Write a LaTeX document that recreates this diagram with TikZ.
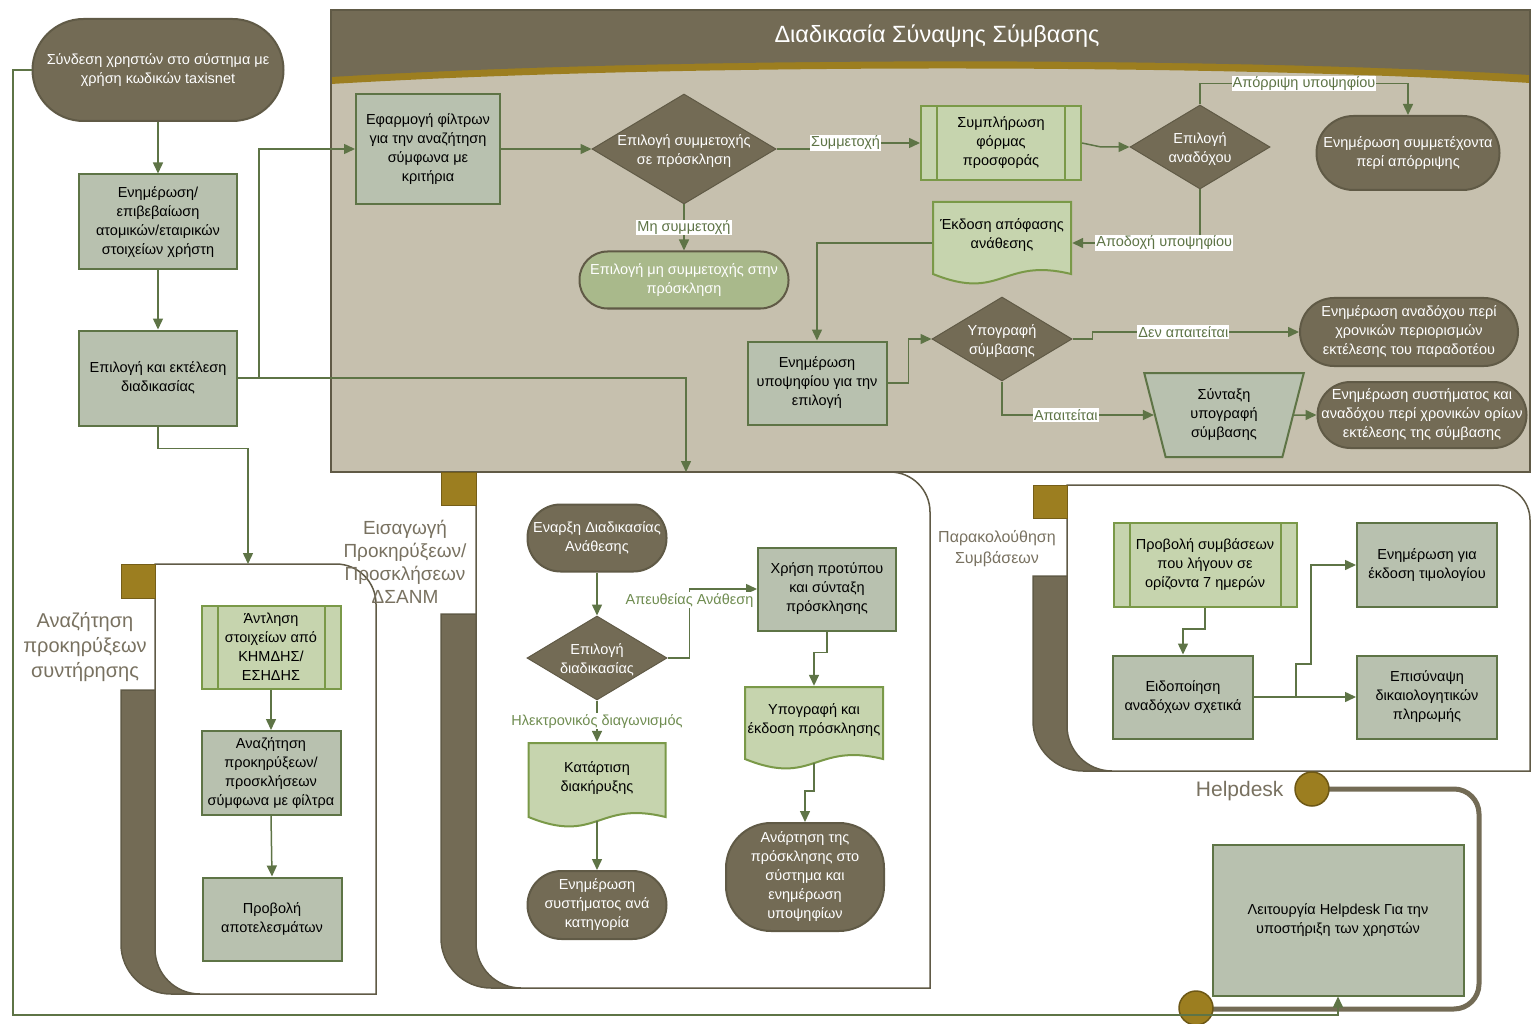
\documentclass[tikz,border=0pt]{standalone}
\usepackage{fontspec}
\setmainfont{Liberation Sans}
\usepackage{tikz}
\usetikzlibrary{arrows.meta}
\usetikzlibrary{shapes.geometric, positioning}
\usepackage{xcolor}
\definecolor{brownD}{RGB}{115,107,85}
\definecolor{brownL}{RGB}{96,90,70}
\definecolor{goldD}{RGB}{156,126,32}
\definecolor{poolbg}{RGB}{198,192,174}
\definecolor{procfill}{RGB}{184,193,175}
\definecolor{procline}{RGB}{94,116,70}
\definecolor{docfill}{RGB}{198,212,174}
\definecolor{docline}{RGB}{122,153,72}
\definecolor{softterm}{RGB}{169,185,139}
\definecolor{flowgreen}{RGB}{94,116,70}
\definecolor{softgreen}{RGB}{111,140,80}
\definecolor{lanegrey}{RGB}{120,113,96}
\newcommand{\boxfont}{\fontsize{14.5}{19}\selectfont}
\tikzstyle{proc} = [draw=procline, fill=procfill, line width=2pt, align=center, font=\boxfont, inner sep=2pt, minimum width=140pt, minimum height=84pt]
\tikzstyle{predef} = [proc, draw=docline, fill=docfill, path picture={
    \draw[docline, line width=2pt] ([xshift=16pt]path picture bounding box.north west) -- ([xshift=16pt]path picture bounding box.south west)
      ([xshift=-16pt]path picture bounding box.north east) -- ([xshift=-16pt]path picture bounding box.south east);}]
\tikzstyle{docbox} = [minimum width=140pt, minimum height=84pt, inner sep=0pt, path picture={
    \filldraw[fill=docfill, draw=docline, line width=2pt]
      ([shift={(1pt,-1pt)}]path picture bounding box.north west) -- ([shift={(-1pt,-1pt)}]path picture bounding box.north east)
      -- ([shift={(-1pt,11pt)}]path picture bounding box.south east)
      .. controls ([yshift=28pt]path picture bounding box.south) and ([yshift=-17pt]path picture bounding box.south)
      .. ([shift={(1pt,11pt)}]path picture bounding box.south west) -- cycle;}]
\tikzstyle{doctext} = [align=center, font=\boxfont, inner sep=0pt]
\tikzstyle{term} = [rectangle, rounded corners=34pt, draw=brownL, fill=brownD, text=white, line width=2pt, align=center, font=\boxfont, inner sep=2pt, minimum width=140pt, minimum height=68pt]
\tikzstyle{choice} = [diamond, draw=brownL, fill=brownD, line width=1pt, inner sep=0pt, minimum width=140pt, minimum height=84pt]
\tikzstyle{choicetext} = [align=center, font=\boxfont, text=white, inner sep=0pt]
\tikzstyle{manual} = [trapezium, shape border rotate=180, trapezium left angle=77, trapezium right angle=77, trapezium stretches=true, draw=procline, fill=procfill, line width=2pt, align=center, font=\boxfont, minimum width=160pt, minimum height=84pt]
\tikzstyle{flow} = [draw=flowgreen, line width=1.5pt, -{Triangle[length=11pt, width=10pt]}]
\tikzstyle{tag} = [fill=white, text=flowgreen, inner sep=1pt, font=\boxfont]
\tikzstyle{lane} = [fill=white, draw=brownL, line width=1.5pt]
\tikzstyle{band} = [fill=brownD, draw=brownL, line width=1.5pt]
\tikzstyle{lanetab} = [fill=goldD, draw=goldD!75!black, line width=1pt]
\tikzstyle{lanename} = [align=center, text=lanegrey, font=\fontsize{20}{25}\selectfont]
\tikzstyle{helpdot} = [circle, fill=goldD, draw=goldD!70!black, line width=1.5pt, minimum size=34pt, inner sep=0pt]

\begin{document}
\begin{tikzpicture}[x=1pt, y=-1pt]
            \useasboundingbox (0,0) rectangle (1531,1024);

            % Pools
            \fill[poolbg] (331,10) rectangle (1530,472);
            \fill[goldD] (331,10) -- (1530,10) -- (1530,83) .. controls (1250,65) and (700,62) .. (331,84) -- cycle;
            \fill[brownD] (331,10) -- (1530,10) -- (1530,75) .. controls (1250,58) and (700,55) .. (331,77) -- cycle;
            \draw[brownL, line width=1.5pt] (331,10) rectangle (1530,472);
            \node[text=white, font=\fontsize{23.5}{27}\selectfont] (title) at (937,36) {Διαδικασία Σύναψης Σύμβασης};

            \filldraw[band] (121,690) -- (121,944) arc[start angle=180, end angle=270, radius=50pt] -- (220,994) -- (220,690) -- cycle;
            \filldraw[lane] (155,564) -- (336,564) arc[start angle=90, end angle=0, radius=40pt] -- (376,994) -- (200,994) arc[start angle=270, end angle=180, radius=45pt] -- cycle;
            \filldraw[lanetab] (121,564) rectangle (155,598);

            \filldraw[band] (441,614) -- (441,938) arc[start angle=180, end angle=270, radius=50pt] -- (540,988) -- (540,614) -- cycle;
            \filldraw[lane] (476,472) -- (890,472) arc[start angle=90, end angle=0, radius=40pt] -- (930,988) -- (521,988) arc[start angle=270, end angle=180, radius=45pt] -- cycle;
            \filldraw[lanetab] (441,472) rectangle (476,505);

            \filldraw[band] (1033,576) -- (1033,721) arc[start angle=180, end angle=270, radius=50pt] -- (1130,771) -- (1130,576) -- cycle;
            \filldraw[lane] (1067,485) -- (1495,485) arc[start angle=90, end angle=0, radius=35pt] -- (1530,771) -- (1112,771) arc[start angle=270, end angle=180, radius=45pt] -- cycle;
            \filldraw[lanetab] (1033,485) rectangle (1067,518);

            \node[lanename] (searchlane) at (85,647) {Αναζήτηση\\προκηρύξεων\\συντήρησης};
            \node[lanename, font=\fontsize{19}{23}\selectfont] (postlane) at (405,562) {Εισαγωγή\\Προκηρύξεων/\\Προσκλήσεων\\ΔΣΑΝΜ};
            \node[lanename, font=\fontsize{16}{21}\selectfont] (tracklane) at (997,549) {Παρακολούθηση\\Συμβάσεων};

            % Helpdesk track
            \draw[brownD, line width=5pt] (1312,789) -- (1454,789) arc[start angle=90, end angle=0, radius=25pt] -- (1479,984) arc[start angle=0, end angle=-90, radius=25pt] -- (1196,1009);
            \node[helpdot] (helpdotA) at (1312,789) {};
            \node[helpdot] (helpdotB) at (1196,1008) {};
            \node[lanename, font=\fontsize{21}{25}\selectfont, anchor=east] (helpname) at (1287,791) {Helpdesk};

            % Nodes
            \node[term, minimum width=251pt, minimum height=102pt, rounded corners=51pt] (start) at (158,70) {Σύνδεση χρηστών στο σύστημα με\\χρήση κωδικών taxisnet};
            \node[proc, minimum width=158pt, minimum height=95pt] (info) at (158,222) {Ενημέρωση/\\επιβεβαίωση\\ατομικών/εταιρικών\\στοιχείων χρήστη};
            \node[proc, minimum width=158pt, minimum height=95pt] (exec) at (158,378) {Επιλογή και εκτέλεση\\διαδικασίας};

            \node[proc, minimum width=144pt, minimum height=110pt] (filt) at (428,149) {Εφαρμογή φίλτρων\\για την αναζήτηση\\σύμφωνα με\\κριτήρια};
            \node[choice, minimum width=184pt, minimum height=110pt] (join) at (684,149) {};
            \node[choicetext] (jointext) at (684,151) {Επιλογή συμμετοχής\\σε πρόσκληση};
            \node[term, fill=softterm, minimum width=209pt, minimum height=57pt, rounded corners=28pt] (skip) at (684,280) {Επιλογή μη συμμετοχής στην\\πρόσκληση};
            \node[predef, minimum width=160pt, minimum height=74pt] (offer) at (1001,143) {Συμπλήρωση\\φόρμας\\προσφοράς};
            \node[choice] (winner) at (1200,147) {};
            \node[choicetext] (winnertext) at (1200,149) {Επιλογή\\αναδόχου};
            \node[term, minimum width=183pt, minimum height=74pt, rounded corners=37pt] (reject) at (1408,153) {Ενημέρωση συμμετέχοντα\\περί απόρριψης};
            \node[docbox] (award) at (1002,243) {};
            \node[doctext] (awardtext) at (1002,235) {Έκδοση απόφασης\\ανάθεσης};
            \node[proc, minimum width=139pt, minimum height=83pt] (notify) at (817,383) {Ενημέρωση\\υποψηφίου για την\\επιλογή};
            \node[choice] (signq) at (1002,339) {};
            \node[choicetext] (signqtext) at (1002,341) {Υπογραφή\\σύμβασης};
            \node[term, minimum width=218pt] (nolimit) at (1409,332) {Ενημέρωση αναδόχου περί\\χρονικών περιορισμών\\εκτέλεσης του παραδοτέου};
            \node[manual] (draft) at (1224,415) {Σύνταξη\\υπογραφή\\σύμβασης};
            \node[term, minimum width=209pt, minimum height=66pt, rounded corners=33pt] (limits) at (1422,415) {Ενημέρωση συστήματος και\\αναδόχου περί χρονικών ορίων\\εκτέλεσης της σύμβασης};

            \node[term, minimum width=139pt, minimum height=67pt, rounded corners=33pt] (opening) at (597,538) {Εναρξη Διαδικασίας\\Ανάθεσης};
            \node[choice] (route) at (597,658) {};
            \node[choicetext] (routetext) at (597,660) {Επιλογή\\διαδικασίας};
            \node[proc, minimum width=138pt, minimum height=83pt] (tmpl) at (827,589) {Χρήση προτύπου\\και σύνταξη\\πρόσκλησης};
            \node[docbox, minimum width=139pt, minimum height=86pt] (decl) at (597,785) {};
            \node[doctext] (decltext) at (597,778) {Κατάρτιση\\διακήρυξης};
            \node[term, minimum width=139pt] (catupd) at (597,905) {Ενημέρωση\\συστήματος ανά\\κατηγορία};
            \node[docbox] (invite) at (814,728) {};
            \node[doctext] (invitetext) at (814,720) {Υπογραφή και\\έκδοση πρόσκλησης};
            \node[term, minimum width=158pt, minimum height=108pt, rounded corners=45pt] (post) at (805,877) {Ανάρτηση της\\πρόσκλησης στο\\σύστημα και\\ενημέρωση\\υποψηφίων};

            \node[predef, minimum width=139pt, minimum height=83pt] (fetch) at (271,647) {Άντληση\\στοιχείων από\\ΚΗΜΔΗΣ/\\ΕΣΗΔΗΣ};
            \node[proc, minimum width=139pt] (search) at (271,773) {Αναζήτηση\\προκηρύξεων/\\προσκλήσεων\\σύμφωνα με φίλτρα};
            \node[proc, minimum width=139pt, minimum height=83pt] (results) at (272,919) {Προβολή\\αποτελεσμάτων};

            \node[predef, minimum width=183pt] (expiring) at (1205,565) {Προβολή συμβάσεων\\που λήγουν σε\\ορίζοντα 7 ημερών};
            \node[proc, minimum height=83pt] (alert) at (1183,697) {Ειδοποίηση\\αναδόχων σχετικά};
            \node[proc] (invoice) at (1427,565) {Ενημέρωση για\\έκδοση τιμολογίου};
            \node[proc, minimum height=83pt] (attach) at (1427,697) {Επισύναψη\\δικαιολογητικών\\πληρωμής};

            \node[proc, minimum width=251pt, minimum height=151pt] (help) at (1338,920) {Λειτουργία Helpdesk Για την\\υποστήριξη των χρηστών};

            \coordinate (lane2top) at (686,472);
            \coordinate (lane3top) at (248,564);

            % Connecting lines
            \draw[flow] (start.south) -- (info.north);
            \draw[flow] (info.south) -- (exec.north);
            \draw[flow] (exec.east) -| (lane2top);
            \draw[flow] ([xshift=21pt]exec.east) |- (filt.west);
            \draw[flow] (exec.south) -- ++(0,22) -| (lane3top);
            \draw[flow] (start.west) -| (13,1015) -| (help.south);

            \draw[flow] (filt.east) -- (join.west);
            \draw[flow] (join.east) -- ++(34,0) |- (offer.west) node[tag, pos=0.66] {Συμμετοχή};
            \draw[flow] (join.south) -- (skip.north) node[tag, midway] {Μη συμμετοχή};
            \draw[flow] (offer.east) -- ++(19,4) -- (winner.west);
            \draw[flow] (winner.north) -- ++(0,-21) -| (reject.north) node[tag, pos=0.25] {Απόρριψη υποψηφίου};
            \draw[flow] (winner.south) |- (award.east) node[tag, pos=0.64] {Αποδοχή υποψηφίου};
            \draw[flow] (award.west) -| (notify.north);
            \draw[flow] (notify.east) -- ++(21,0) |- (signq.west);
            \draw[flow] (signq.east) -- ++(20,0) |- (nolimit.west) node[tag, pos=0.72] {Δεν απαιτείται};
            \draw[flow] (signq.south) |- (draft.west) node[tag, pos=0.71] {Απαιτείται};
            \draw[flow] (draft.east) -- (limits.west);

            \draw[flow] (opening.south) -- (route.north);
            \draw[flow] (route.east) -- ++(22,0) |- (tmpl.west) node[tag, text=softgreen, pos=0.42] {Απευθείας Ανάθεση};
            \draw[flow] (route.south) -- (decl.north) node[tag, text=softgreen, midway] {Ηλεκτρονικός διαγωνισμός};
            \draw[flow] ([yshift=7pt]decl.south) -- (catupd.north);
            \draw[flow] (tmpl.south) -- ++(0,21) -| (invite.north);
            \draw[flow] ([yshift=7pt]invite.south) -- ++(0,28) -| (post.north);

            \draw[flow] (fetch.south) -- (search.north);
            \draw[flow] (search.south) -- (results.north);

            \draw[flow] (expiring.south) -- ++(0,21) -| (alert.north);
            \draw[flow] (alert.east) -- (attach.west);
            \draw[flow] ([xshift=42pt]alert.east) -- ++(0,-33) -- ++(15,0) |- (invoice.west);
        \end{tikzpicture}
\end{document}
